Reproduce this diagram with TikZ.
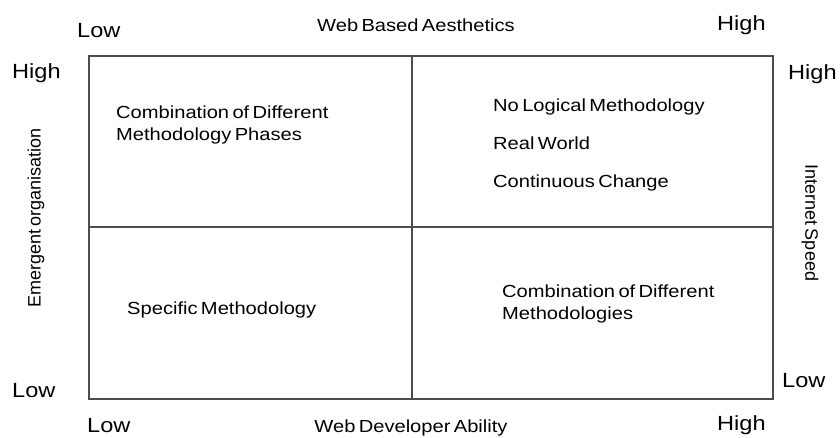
\documentclass[tikz,border=0pt]{standalone}
\usepackage{fontspec}
\setmainfont[FakeStretch=1.15,WordSpace=0.6]{Liberation Sans}
\newfontfamily\rotfont[WordSpace=0.6]{Liberation Sans}
\begin{document}
\begin{tikzpicture}[x=1pt,y=-1pt,
  lbl/.style={inner sep=0pt,anchor=base west,font=\fontsize{20.5}{24}\selectfont},
  ttl/.style={inner sep=0pt,anchor=base,font=\fontsize{17.5}{21}\selectfont},
  rot/.style={inner sep=0pt,font=\rotfont\fontsize{18}{21}\selectfont},
  quad/.style={inner sep=0pt,align=left,anchor=north west},
  gridline/.style={draw=black!70,line width=1.2pt}]
\useasboundingbox (0,0) rectangle (840,437);
\fill[white] (0,0) rectangle (840,437);
% frame
\coordinate (tl) at (89,56);
\coordinate (br) at (773,399);
\coordinate (tm) at (412,56);
\coordinate (bm) at (412,399);
\coordinate (lm) at (89,227);
\coordinate (rm) at (773,227);
\draw[gridline] (tl) rectangle (br);
\draw[gridline] (tm) -- (bm);
\draw[gridline] (lm) -- (rm);
% axis labels
\node[lbl] (lowtop) at (77,37) {Low};
\node[lbl] (hightop) at (717,30) {High};
\node[ttl] (wba) at (416,31) {Web Based Aesthetics};
\node[lbl] (highleft) at (12,78) {High};
\node[lbl] (lowleft) at (12,397) {Low};
\node[lbl] (highright) at (788,79) {High};
\node[lbl] (lowright) at (782,387) {Low};
\node[lbl] (lowbot) at (87,432) {Low};
\node[lbl] (highbot) at (717,430) {High};
\node[ttl] (wda) at (411,432) {Web Developer Ability};
\node[rot,rotate=90] (emo) at (36,218) {Emergent organisation};
\node[rot,rotate=-90] (isp) at (810,223) {Internet Speed};
% quadrants
\node[quad,font=\fontsize{17.5}{22}\selectfont] (q1) at (116,105.5) {Combination of Different\\Methodology Phases};
\node[quad,font=\fontsize{17.5}{38}\selectfont] (q2) at (493,98.5) {No Logical Methodology\\Real World\\Continuous Change};
\node[inner sep=0pt,anchor=base west,font=\fontsize{17.5}{22}\selectfont] (q3) at (127,314) {Specific Methodology};
\node[quad,font=\fontsize{17.5}{22}\selectfont] (q4) at (502,284.5) {Combination of Different\\Methodologies};
\end{tikzpicture}
\end{document}
